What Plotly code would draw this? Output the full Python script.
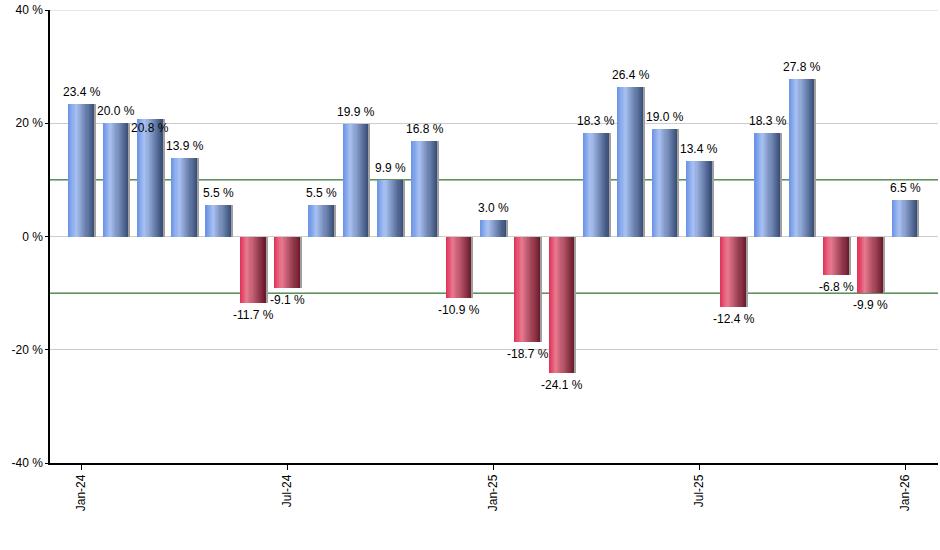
import plotly.graph_objects as go

months = ['Jan-24', 'Feb-24', 'Mar-24', 'Apr-24', 'May-24', 'Jun-24', 'Jul-24', 'Aug-24',
          'Sep-24', 'Oct-24', 'Nov-24', 'Dec-24', 'Jan-25', 'Feb-25', 'Mar-25', 'Apr-25',
          'May-25', 'Jun-25', 'Jul-25', 'Aug-25', 'Sep-25', 'Oct-25', 'Nov-25', 'Dec-25', 'Jan-26']
returns = [23.4, 20.0, 20.8, 13.9, 5.5, -11.7, -9.1, 5.5, 19.9, 9.9, 16.8, -10.9, 3.0,
           -18.7, -24.1, 18.3, 26.4, 19.0, 13.4, -12.4, 18.3, 27.8, -6.8, -9.9, 6.5]
tick_labels = ['Jan-24', 'Jul-24', 'Jan-25', 'Jul-25', 'Jan-26']
y_ticks = [-40, -20, 0, 20, 40]

x = list(range(len(months)))
tick_pos = [months.index(t) for t in tick_labels]

# gradient stops (position across bar, colour)
blue_stops = [(0.0, (104, 146, 230)), (0.3, (170, 194, 242)), (1.0, (55, 76, 118))]
red_stops = [(0.0, (224, 46, 86)), (0.28, (232, 122, 144)), (1.0, (104, 24, 42))]


def shade(stops, t):
    for (p0, c0), (p1, c1) in zip(stops, stops[1:]):
        if p0 <= t <= p1:
            f = (t - p0) / (p1 - p0)
            return 'rgb(%d,%d,%d)' % tuple(round(a + (b - a) * f) for a, b in zip(c0, c1))
    return 'rgb(%d,%d,%d)' % stops[-1][1]


fig = go.Figure()

bar_w = 0.75
n = 24
sw = bar_w / n
for k in range(n):
    t = (k + 0.5) / n
    cols = [shade(blue_stops, t) if v >= 0 else shade(red_stops, t) for v in returns]
    fig.add_trace(go.Bar(x=x, y=returns, width=sw * 1.3, offset=-bar_w / 2 + k * sw,
                         marker=dict(color=cols, line=dict(width=0)),
                         hoverinfo='skip', showlegend=False))
# thin grey shadow on the right edge
fig.add_trace(go.Bar(x=x, y=returns, width=0.04, offset=bar_w / 2,
                     marker=dict(color='#a0a0a0', line=dict(width=0)),
                     hoverinfo='skip', showlegend=False))

nudge = {2: -21}
for i, v in enumerate(returns):
    ys = 12 if v >= 0 else -12
    ys += nudge.get(i, 0)
    fig.add_annotation(x=i, y=v, text='%.1f %%' % v, showarrow=False, yshift=ys,
                       font=dict(size=12, color='black'))

for lvl in [10, -10]:
    fig.add_shape(type='line', xref='paper', x0=0, x1=1, y0=lvl, y1=lvl,
                  line=dict(color='#005000', width=1), layer='below')
# top grid line (plotly skips the one sitting on the plot edge)
fig.add_shape(type='line', xref='paper', x0=0, x1=1, y0=40, y1=40,
              line=dict(color='#cccccc', width=1), layer='below')

fig.update_layout(
    width=940, height=550,
    margin=dict(l=50, r=2, t=10, b=87),
    plot_bgcolor='white', paper_bgcolor='white',
    barmode='overlay', bargap=0,
    font=dict(family='Liberation Sans, Arial, sans-serif', size=12, color='black'),
)
fig.update_xaxes(range=[-0.92, 24.96], tickvals=tick_pos, ticktext=tick_labels,
                 tickangle=-90, ticks='outside', ticklen=5, tickcolor='black',
                 showline=True, linecolor='black', linewidth=1.5, showgrid=False,
                 zeroline=False)
fig.update_yaxes(range=[-40, 40], tickvals=y_ticks, ticktext=['%d %%' % v for v in y_ticks],
                 ticks='outside', ticklen=3, tickcolor='black',
                 showline=True, linecolor='black', linewidth=1.5, automargin=False,
                 showgrid=True, gridcolor='#cccccc', gridwidth=1, zeroline=False)

fig.write_html('out.html', config={'displayModeBar': False},
               post_script="document.body.style.margin='0px';")
